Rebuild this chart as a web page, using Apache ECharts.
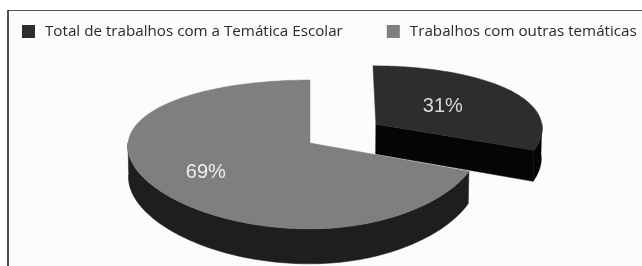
<!DOCTYPE html>
<html lang="pt">
<head>
    <meta charset="UTF-8" />
    <title>Temática Escolar</title>
    <script src="https://cdn.jsdelivr.net/npm/echarts@6/dist/echarts.min.js"></script>
</head>
<style>
    html, body {
        margin: 0;
        padding: 0;
        background: #fff;
    }

    #main {
        width: 642px;
        height: 266px;
    }
</style>
<body>
    <div id="main"></div>
</body>
<script type="text/javascript">
    // dados
    const categories = ['Total de trabalhos com a Temática Escolar', 'Trabalhos com outras temáticas'];
    const values = [31, 69];
    const labels = ['31%', '69%'];

    const topColors = ['#2d2d2d', '#7f7f7f'];
    const sideColors = ['#050505', '#1e1e1e'];
    const labelColors = ['#d8d8d8', '#eeeeee'];
    const explode = [0.48, 0];
    const labelRadius = [0.5, 0.68];

    // "3D" projection of the pie (unit radius, tilted, light perspective)
    const cx = 310, cy = 143;
    const SIN = 0.397, COS = 0.918, DIST = 5.96, H = 0.185;
    function proj(x, y, z) {
        const d = 1 + (y * COS - z * SIN) / DIST;
        const dx = 1 + (d - 1) * 0.3;
        const sx = x < 0 ? 182 : 168;
        return [cx + sx * x / dx, cy - 183 * (y * SIN + z * COS) / d];
    }

    function poly(points, fill) {
        return { type: 'polygon', shape: { points: points }, style: { fill: fill, stroke: fill, lineWidth: 0.5 } };
    }

    function renderSlice(params, api) {
        const i = params.seriesIndex;
        const total = values.reduce(function (a, b) { return a + b; }, 0);
        let cum = 0;
        for (let k = 0; k < i; k++) cum += values[k];
        const v = api.value(0);
        const s = Math.PI / 2 - cum / total * 2 * Math.PI;
        const e = s - v / total * 2 * Math.PI;
        const a0 = e, a1 = s;
        const mid = (a0 + a1) / 2;
        const ox = explode[i] * Math.cos(mid), oy = explode[i] * Math.sin(mid);

        const rim = function (t, z) { return proj(ox + Math.cos(t), oy + Math.sin(t), z); };
        const ctr = function (z) { return proj(ox, oy, z); };
        const arc = function (t0, t1, z) {
            const n = Math.max(2, Math.ceil(Math.abs(t1 - t0) / 0.02));
            const pts = [];
            for (let j = 0; j <= n; j++) pts.push(rim(t0 + (t1 - t0) * j / n, z));
            return pts;
        };

        const children = [];
        // cut faces facing the viewer
        if (Math.cos(a0) > 1e-6) children.push(poly([ctr(0), rim(a0, 0), rim(a0, -H), ctr(-H)], sideColors[i]));
        if (Math.cos(a1) < -1e-6) children.push(poly([ctr(0), rim(a1, 0), rim(a1, -H), ctr(-H)], sideColors[i]));
        // front part of the outer wall
        for (let k = -1; k <= 1; k++) {
            const lo = Math.max(a0, 2 * Math.PI * k - Math.PI);
            const hi = Math.min(a1, 2 * Math.PI * k);
            if (hi > lo) children.push(poly(arc(lo, hi, 0).concat(arc(hi, lo, -H)), sideColors[i]));
        }
        // top
        children.push(poly([ctr(0)].concat(arc(a0, a1, 0)), topColors[i]));
        // label
        const lr = labelRadius[i];
        const lp = proj(ox + lr * Math.cos(mid), oy + lr * Math.sin(mid), 0);
        children.push({
            type: 'text',
            style: {
                text: labels[i], x: lp[0], y: lp[1],
                fill: labelColors[i], fontSize: 20, fontFamily: 'Liberation Sans',
                align: 'center', verticalAlign: 'middle'
            }
        });
        return { type: 'group', children: children };
    }

    var chart = echarts.init(document.getElementById('main'), null, { renderer: 'canvas' });
    chart.setOption({
        animation: false,
        backgroundColor: '#ffffff',
        graphic: [
            { type: 'rect', shape: { x: 8, y: 10, width: 640, height: 260 }, style: { fill: '#fcfcfc' }, z: -10 },
            { type: 'line', shape: { x1: 8, y1: 10.5, x2: 642, y2: 10.5 }, style: { stroke: '#555', lineWidth: 1 }, z: -5 },
            { type: 'line', shape: { x1: 8, y1: 10, x2: 8, y2: 266 }, style: { stroke: '#222', lineWidth: 1.6 }, z: -5 }
        ],
        legend: {
            left: 22,
            top: 24,
            width: 720,
            padding: 0,
            icon: 'rect',
            itemWidth: 13,
            itemHeight: 13,
            itemGap: 44,
            selectedMode: false,
            textStyle: {
                fontFamily: 'Open Sans',
                fontSize: 15.2,
                color: '#2a2a2a',
                padding: [0, 0, 0, 5]
            },
            data: categories
        },
        series: categories.map(function (name, i) {
            return {
                type: 'custom',
                name: name,
                coordinateSystem: 'none',
                silent: true,
                itemStyle: { color: topColors[i] },
                data: [values[i]],
                renderItem: renderSlice
            };
        })
    });
</script>
</html>
